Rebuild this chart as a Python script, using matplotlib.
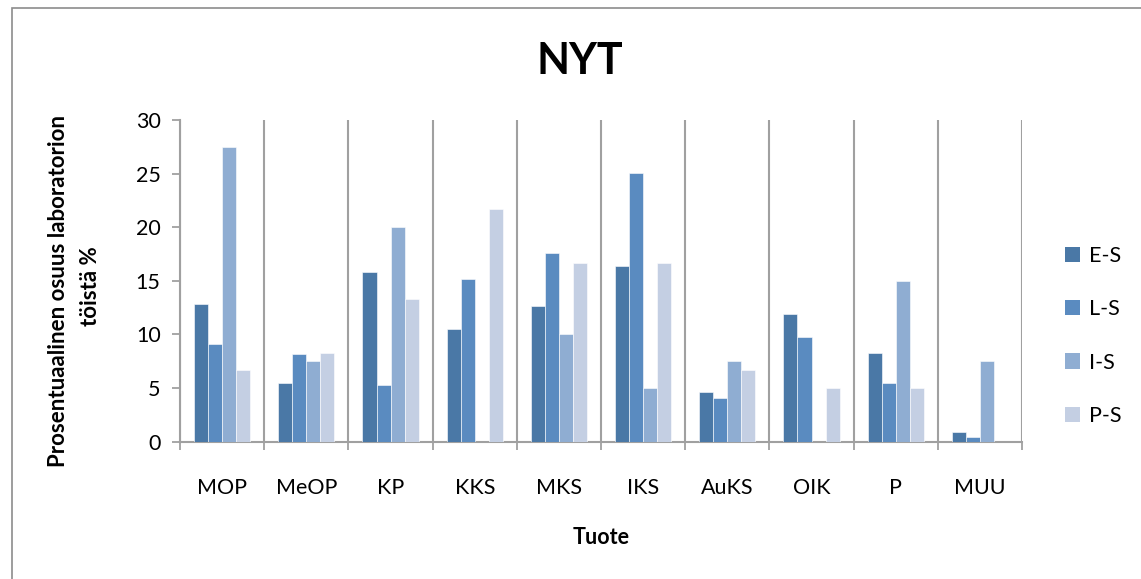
import numpy as np
import matplotlib.pyplot as plt
from matplotlib.patches import Rectangle, Patch

plt.rcParams['font.family'] = ['Lato', 'DejaVu Sans']

# Product categories and share of laboratory work (%) per unit
categories = ["MOP", "MeOP", "KP", "KKS", "MKS", "IKS", "AuKS", "OIK", "P", "MUU"]
series_names = ["E-S", "L-S", "I-S", "P-S"]
e_s = [12.8, 5.5, 15.8, 10.5, 12.7, 16.4, 4.6, 11.9, 8.3, 0.9]
l_s = [9.1, 8.2, 5.3, 15.2, 17.6, 25.1, 4.1, 9.8, 5.5, 0.4]
i_s = [27.5, 7.5, 20.0, 0.0, 10.0, 5.0, 7.5, 0.0, 15.0, 7.5]
p_s = [6.7, 8.3, 13.3, 21.7, 16.7, 16.7, 6.7, 5.0, 5.0, 0.0]
colors = ["#4a78a6", "#5a8bc0", "#8fadd2", "#c4cfe3"]

grey = "#a0a0a0"
fs = 15.5

fig = plt.figure(figsize=(11.41, 5.79), dpi=100)
ax = fig.add_axes([0.1578, 0.2371, 0.7379, 0.5556])

# outer chart frame
fig.patches.append(Rectangle((12 / 1141, -0.05), 1.2, 1 - 8 / 579 + 0.05,
                             transform=fig.transFigure, fill=False,
                             edgecolor="#8c8c8c", linewidth=1.2))

x = np.arange(len(categories)) + 0.5
w = 1 / 6
for k, vals in enumerate([e_s, l_s, i_s, p_s]):
    ax.bar(x + (k - 1.5) * w, vals, width=w, color=colors[k],
           edgecolor="white", linewidth=0.4, label=series_names[k], zorder=3)

ax.set_xlim(0, len(categories))
ax.set_ylim(0, 30)
ax.set_yticks(range(0, 31, 5))

# category boundaries carry the gridlines and ticks, centers carry the labels
ax.set_xticks(np.arange(len(categories) + 1))
ax.set_xticklabels([])
ax.set_xticks(x, minor=True)
ax.set_xticklabels(categories, minor=True)
ax.tick_params(axis="x", which="minor", length=0, pad=26, labelsize=fs)
ax.tick_params(axis="x", which="major", length=6, width=1.3, color=grey)
ax.tick_params(axis="y", length=6, width=1.3, color=grey, labelsize=fs, pad=8)
ax.grid(axis="x", which="major", color=grey, linewidth=1.5, zorder=1)

for s in ["top", "right"]:
    ax.spines[s].set_visible(False)
for s in ["left", "bottom"]:
    ax.spines[s].set_color(grey)
    ax.spines[s].set_linewidth(1.5)

fig.text(0.508, 0.895, "NYT", ha="center", va="center",
         fontsize=31, fontweight="bold")
fig.text(0.527, 0.071, "Tuote", ha="center", va="center",
         fontsize=fs, fontweight="bold")
# two-line y axis title, each line centred on its own
fig.text(0.051, 0.497, "Prosentuaalinen osuus laboratorion",
         ha="center", va="center", rotation=90, fontsize=16,
         fontweight="bold")
fig.text(0.079, 0.505, "töistä %",
         ha="center", va="center", rotation=90, fontsize=16,
         fontweight="bold")

handles = [Patch(facecolor=c) for c in colors]
fig.legend(handles, series_names, loc="center left",
           bbox_to_anchor=(0.916, 0.42), frameon=False, fontsize=fs,
           handlelength=0.7, handleheight=0.7, handletextpad=0.45,
           labelspacing=1.55)

fig.savefig("out.png", dpi=100)
